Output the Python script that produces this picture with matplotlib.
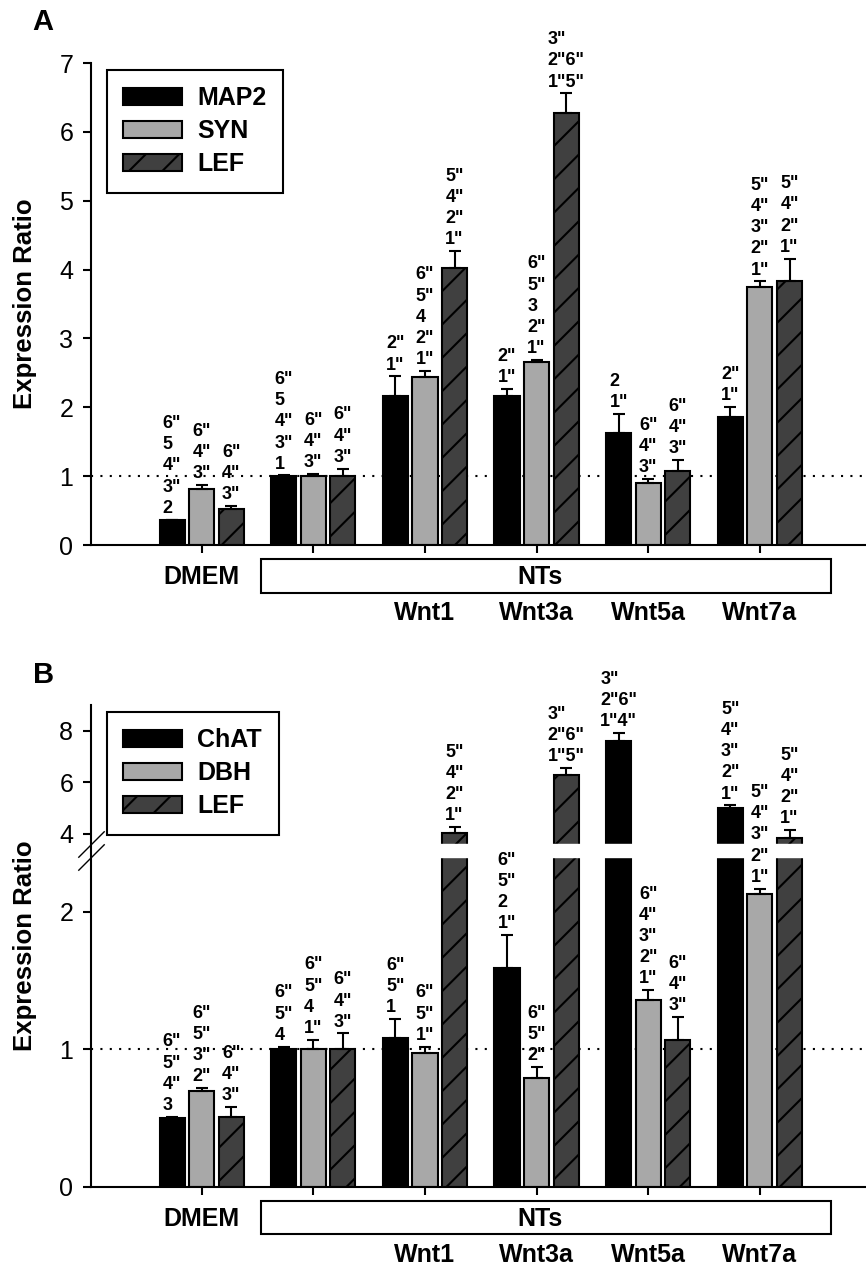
import numpy as np
import matplotlib
matplotlib.use('Agg')
import matplotlib.pyplot as plt
import matplotlib.transforms as mtransforms
from matplotlib.patches import Rectangle

plt.rcParams['font.family'] = ['Liberation Sans', 'DejaVu Sans']
plt.rcParams['hatch.linewidth'] = 1.5
plt.rcParams['hatch.color'] = 'black'

# ── Data ──────────────────────────────────────────────────────────
groups = ['DMEM', 'NT', 'Wnt1', 'Wnt3a', 'Wnt5a', 'Wnt7a']
wnt_labels = ['Wnt1', 'Wnt3a', 'Wnt5a', 'Wnt7a']

# panel A
a_names = ['MAP2', 'SYN', 'LEF']
a_map2 = [0.36, 1.00, 2.16, 2.17, 1.63, 1.86]
a_map2_err = [0.01, 0.01, 0.29, 0.10, 0.27, 0.15]
a_syn = [0.82, 1.00, 2.44, 2.66, 0.90, 3.74]
a_syn_err = [0.05, 0.03, 0.09, 0.03, 0.06, 0.09]
a_lef = [0.52, 1.00, 4.03, 6.27, 1.08, 3.84]
a_lef_err = [0.05, 0.11, 0.24, 0.29, 0.16, 0.32]
a_map2_sig = ['6"\n5\n4"\n3"\n2', '6"\n5\n4"\n3"\n1', '2"\n1"', '2"\n1"', '2\n1"', '2"\n1"']
a_syn_sig = ['6"\n4"\n3"', '6"\n4"\n3"', '6"\n5"\n4\n2"\n1"', '6"\n5"\n3\n2"\n1"',
             '6"\n4"\n3"', '5"\n4"\n3"\n2"\n1"']
a_lef_sig = ['6"\n4"\n3"', '6"\n4"\n3"', '5"\n4"\n2"\n1"', '3"\n2"6"\n1"5"',
             '6"\n4"\n3"', '5"\n4"\n2"\n1"']

# panel B
b_names = ['ChAT', 'DBH', 'LEF']
b_chat = [0.50, 1.00, 1.08, 1.59, 7.62, 5.01]
b_chat_err = [0.01, 0.02, 0.14, 0.24, 0.31, 0.10]
b_dbh = [0.70, 1.00, 0.97, 0.79, 1.36, 2.13]
b_dbh_err = [0.02, 0.07, 0.05, 0.08, 0.07, 0.04]
b_lef = [0.51, 1.00, 4.03, 6.27, 1.07, 3.84]
b_lef_err = [0.07, 0.115, 0.24, 0.29, 0.165, 0.32]
b_chat_sig = ['6"\n5"\n4"\n3', '6"\n5"\n4', '6"\n5"\n1', '6"\n5"\n2\n1"',
              '3"\n2"6"\n1"4"', '5"\n4"\n3"\n2"\n1"']
b_dbh_sig = ['6"\n5"\n3"\n2"', '6"\n5"\n4\n1"', '6"\n5"\n1"', '6"\n5"\n2"',
             '6"\n4"\n3"\n2"\n1"', '5"\n4"\n3"\n2"\n1"']
b_lef_sig = ['6"\n4"\n3"', '6"\n4"\n3"', '5"\n4"\n2"\n1"', '3"\n2"6"\n1"5"',
             '6"\n4"\n3"', '5"\n4"\n2"\n1"']

# ── Style ─────────────────────────────────────────────────────────
COLORS = ['#000000', '#a8a8a8', '#404040']
HATCHES = [None, None, '/']
OFFSETS = [-0.265, 0.0, 0.265]
WIDTH = 0.225
LW = 1.5

# broken y axis for panel B
LO_TOP, HI_BOT = 2.4, 3.6
GAP = 0.092
K = 0.1876


def fwd(y):
    y = np.asarray(y, dtype=float)
    return np.where(y <= LO_TOP, y,
                    np.where(y >= HI_BOT, LO_TOP + GAP + (y - HI_BOT) * K,
                             LO_TOP + (y - LO_TOP) / (HI_BOT - LO_TOP) * GAP))


def inv(t):
    t = np.asarray(t, dtype=float)
    return np.where(t <= LO_TOP, t,
                    np.where(t >= LO_TOP + GAP, HI_BOT + (t - LO_TOP - GAP) / K,
                             LO_TOP + (t - LO_TOP) / GAP * (HI_BOT - LO_TOP)))


def draw_panel(ax, names, vals, errs, sigs, letter, letter_y):
    x = np.arange(len(groups))
    handles = []
    for i in range(3):
        xi = x + OFFSETS[i]
        b = ax.bar(xi, vals[i], WIDTH, color=COLORS[i], edgecolor='black',
                   linewidth=LW, hatch=HATCHES[i], label=names[i], zorder=1)
        handles.append(b)
        ax.errorbar(xi, vals[i], yerr=[np.zeros(len(x)), errs[i]], fmt='none',
                    ecolor='black', elinewidth=LW, capsize=4.5, capthick=LW, zorder=1.5)
        for xx, v, e, s in zip(xi, vals[i], errs[i], sigs[i]):
            ax.annotate(s, xy=(xx, v + e), xytext=(0, 2), textcoords='offset points',
                        ha='center', va='bottom', multialignment='left',
                        fontsize=13, fontweight='bold', linespacing=1.32, zorder=3)

    ax.axhline(1, color='black', linestyle=(0, (1, 3.5)), linewidth=1.5, zorder=0.5)

    ax.set_xlim(-0.994, 5.95)
    ax.set_xticks(x)
    ax.set_xticklabels([])
    ax.spines['top'].set_visible(False)
    ax.spines['right'].set_visible(False)
    for sp in ('left', 'bottom'):
        ax.spines[sp].set_linewidth(LW)
    ax.tick_params(axis='both', direction='out', length=5.5, width=LW, labelsize=18, pad=7)
    ax.set_ylabel('Expression Ratio', fontsize=18.5, fontweight='bold')
    ax.yaxis.set_label_coords(-0.069, 0.5)

    leg = ax.legend(handles=handles, loc='upper left', bbox_to_anchor=(0.0206, 0.986),
                    borderaxespad=0, fancybox=False, framealpha=1, edgecolor='black',
                    prop={'weight': 'bold', 'size': 18}, handlelength=2.35,
                    handleheight=0.63, handletextpad=0.62, labelspacing=0.36,
                    borderpad=0.66)
    leg.get_frame().set_linewidth(LW)

    # group labels below the axis
    tr = mtransforms.blended_transform_factory(ax.transData, ax.transAxes)
    ax.text(0, -0.066, 'DMEM', transform=tr, ha='center', va='center',
            fontsize=18, fontweight='bold')
    box = Rectangle((0.53, -0.099), 5.64 - 0.53, 0.069, transform=tr, fill=True,
                    facecolor='white', edgecolor='black', linewidth=LW, clip_on=False)
    ax.add_patch(box)
    ax.text(3.03, -0.066, 'NTs', transform=tr, ha='center', va='center',
            fontsize=18, fontweight='bold')
    for j, lab in enumerate(wnt_labels):
        ax.text(2 + j, -0.142, lab, transform=tr, ha='center', va='center',
                fontsize=18, fontweight='bold')

    ax.text(-0.075, letter_y, letter, transform=ax.transAxes, ha='left', va='center',
            fontsize=21, fontweight='bold')


fig = plt.figure(figsize=(8.66, 12.71), dpi=100)

axA = fig.add_axes([0.1047, 0.5712, 0.8953, 0.3792])
draw_panel(axA, a_names, [a_map2, a_syn, a_lef], [a_map2_err, a_syn_err, a_lef_err],
           [a_map2_sig, a_syn_sig, a_lef_sig], 'A', 1.086)
axA.set_ylim(0, 7)
axA.set_yticks(range(0, 8))

axB = fig.add_axes([0.1047, 0.0663, 0.8953, 0.3790])
axB.set_yscale('function', functions=(fwd, inv))
draw_panel(axB, b_names, [b_chat, b_dbh, b_lef], [b_chat_err, b_dbh_err, b_lef_err],
           [b_chat_sig, b_dbh_sig, b_lef_sig], 'B', 1.062)
axB.set_ylim(0, 9.0)
axB.set_yticks([0, 1, 2, 4, 6, 8])
axB.set_yticklabels(['0', '1', '2', '4', '6', '8'])
axB.yaxis.set_minor_locator(matplotlib.ticker.NullLocator())
# white gap through the bars
axB.axhspan(LO_TOP, HI_BOT, color='white', zorder=2)
# break marks on the y axis
ytr = axB.get_yaxis_transform()
axB.plot([0, 0], [HI_BOT, LO_TOP], transform=ytr, linestyle='none',
         marker=[(-1, -1), (1, 1)], markersize=19, markeredgewidth=1,
         color='black', clip_on=False, zorder=4)

fig.savefig('out.png', dpi=100)
